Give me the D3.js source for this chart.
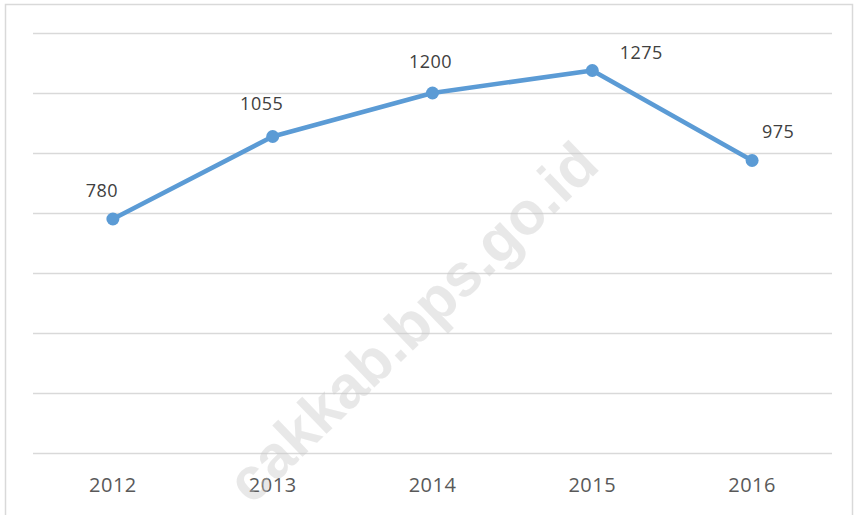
<!DOCTYPE html>
<html><head><meta charset="utf-8">
<script src="https://cdn.jsdelivr.net/npm/d3@7"></script>
<style>body{margin:0;background:#fff}svg{display:block}</style>
</head><body>
<svg id="c" width="860" height="515"></svg>
<script>
const years = ["2012","2013","2014","2015","2016"];
const values = [780, 1055, 1200, 1275, 975];
const yTicks = [0, 200, 400, 600, 800, 1000, 1200, 1400];
const labelOffsets = [[-11,-28],[-11,-33],[-2,-31],[49,-18],[26,-29]];
const watermark = "cakkab.bps.go.id";

const svg = d3.select("#c");
svg.append("rect").attr("x",5.5).attr("y",4.5).attr("width",847).attr("height",520)
  .attr("fill","#fff").attr("stroke","#d9d9d9").attr("stroke-width",1.5);

const x = d3.scaleBand().domain(years).range([33,832]);
const y = d3.scaleLinear().domain([0,1400]).range([453,33]);

// gridlines
svg.append("g").selectAll("line").data(yTicks).join("line")
  .attr("x1",33).attr("x2",832)
  .attr("y1",d=>Math.round(y(d))+0.5).attr("y2",d=>Math.round(y(d))+0.5)
  .attr("stroke","#d9d9d9").attr("stroke-width",1.5);

// x axis labels
const xAxis = d3.axisBottom(x).tickSize(0).tickPadding(0);
const gx = svg.append("g").attr("transform","translate(0,453)").call(xAxis);
gx.select(".domain").remove();
gx.selectAll("text").attr("y",39).attr("dy",0)
  .attr("font-family","'Open Sans', sans-serif").attr("font-size",20)
  .attr("fill","#595959").attr("letter-spacing",0.5);

const cx = i => x(years[i]) + x.bandwidth()/2;

// line
const line = d3.line().x((d,i)=>cx(i)).y(d=>y(d));
svg.append("path").datum(values).attr("d",line).attr("fill","none")
  .attr("stroke","#5b9bd5").attr("stroke-width",4.5).attr("stroke-linejoin","round");

svg.append("g").selectAll("circle").data(values).join("circle")
  .attr("cx",(d,i)=>cx(i)).attr("cy",d=>y(d)).attr("r",6.5).attr("fill","#5b9bd5");

// data labels
svg.append("g").selectAll("text").data(values).join("text")
  .attr("x",(d,i)=>cx(i)+labelOffsets[i][0])
  .attr("y",(d,i)=>y(d)+labelOffsets[i][1])
  .attr("dy","0.35em").attr("text-anchor","middle")
  .attr("font-family","'Open Sans', sans-serif").attr("font-size",18)
  .attr("fill","#404040").attr("letter-spacing",0.5)
  .text(d=>d);

// watermark
svg.append("text").attr("transform","translate(412,322) rotate(-44)")
  .attr("text-anchor","middle").attr("dy","0.35em")
  .attr("font-family","'Liberation Sans', Arial, sans-serif").attr("font-weight","bold")
  .attr("font-size",60).attr("fill","#c8c8c8").attr("opacity",0.4)
  .text(watermark);
</script>
</body></html>
